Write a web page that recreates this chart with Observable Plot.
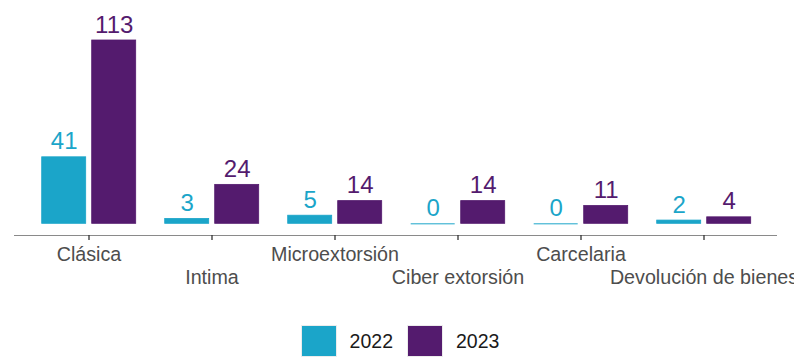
<!DOCTYPE html>
<html>
<head>
<meta charset="utf-8">
<script src="https://cdn.jsdelivr.net/npm/d3@7"></script>
<script src="https://cdn.jsdelivr.net/npm/@observablehq/plot@0.6"></script>
<style>
  html, body { margin: 0; padding: 0; background: #fff; }
  body { width: 794px; height: 358px; overflow: hidden; font-family: "Liberation Sans", Arial, sans-serif; }
  #legend { display: flex; justify-content: center; align-items: center; margin-top: 25px; margin-left: 6px; }
  .key { display: flex; align-items: center; margin: 0 7px; }
  .sw { width: 36px; height: 32px; box-sizing: border-box; border: 1px solid #ececec; }
  .lab { font-size: 19.5px; color: #1a1a1a; margin-left: 13px; }
</style>
</head>
<body>
<div id="chart"></div>
<div id="legend"></div>
<script>
// Extortion cases by type, 2022 vs 2023
const categories = ["Clásica", "Intima", "Microextorsión", "Ciber extorsión", "Carcelaria", "Devolución de bienes"];
const values2022 = [41, 3, 5, 0, 0, 2];
const values2023 = [113, 24, 14, 14, 11, 4];
const years = ["2022", "2023"];
const colors = ["#1BA5C9", "#541B6E"];

const rows2022 = categories.map((c, i) => ({category: c, value: values2022[i]}));
const rows2023 = categories.map((c, i) => ({category: c, value: values2023[i]}));
const yMin = -7.2;

const font = "Liberation Sans, Arial, sans-serif";
const inset2022 = {insetLeft: 14.7, insetRight: 64.3};
const inset2023 = {insetLeft: 64.7, insetRight: 14.3};

const plot = Plot.plot({
  width: 794,
  height: 300,
  marginLeft: 14,
  marginRight: 17,
  marginTop: 40,
  marginBottom: 65,
  style: {fontFamily: font, background: "transparent"},
  x: {type: "band", domain: categories, paddingInner: 0, paddingOuter: 0.1, axis: null, label: null},
  y: {domain: [yMin, 113], axis: null},
  marks: [
    Plot.barY(rows2022, {x: "category", y: "value", fill: colors[0], stroke: colors[0], strokeWidth: 0.8, ...inset2022}),
    Plot.barY(rows2023, {x: "category", y: "value", fill: colors[1], stroke: colors[1], strokeWidth: 0.8, ...inset2023}),
    // zero-valued bars still show as a thin line on the baseline
    Plot.tickY(rows2022.filter(d => d.value === 0), {x: "category", y: "value", stroke: colors[0], strokeWidth: 1, ...inset2022}),
    Plot.tickY(rows2023.filter(d => d.value === 0), {x: "category", y: "value", stroke: colors[1], strokeWidth: 1, ...inset2023}),
    Plot.text(rows2022, {x: "category", y: "value", text: d => String(d.value), fill: colors[0], fontSize: 24, lineAnchor: "bottom", dx: -24.8, dy: -8}),
    Plot.text(rows2023, {x: "category", y: "value", text: d => String(d.value), fill: colors[1], fontSize: 24, lineAnchor: "bottom", dx: 25.2, dy: -8}),
    Plot.ruleY([yMin], {stroke: "#8a8a8a", strokeWidth: 1.2}),
    Plot.axisX({tickSize: 5, tickFormat: () => "", label: null, stroke: "#333", strokeWidth: 1.3}),
    Plot.text(categories.filter((d, i) => i % 2 === 0), {x: d => d, frameAnchor: "bottom", lineAnchor: "bottom", dy: 25, fontSize: 19.7, fill: "#4d4d4d"}),
    Plot.text(categories.filter((d, i) => i % 2 === 1), {x: d => d, frameAnchor: "bottom", lineAnchor: "bottom", dy: 48, fontSize: 19.7, fill: "#4d4d4d"})
  ]
});
document.getElementById("chart").appendChild(plot);

const legend = document.getElementById("legend");
years.forEach((y, i) => {
  const key = document.createElement("div");
  key.className = "key";
  key.innerHTML = `<div class="sw" style="background:${colors[i]}"></div><span class="lab">${y}</span>`;
  legend.appendChild(key);
});
</script>
</body>
</html>
